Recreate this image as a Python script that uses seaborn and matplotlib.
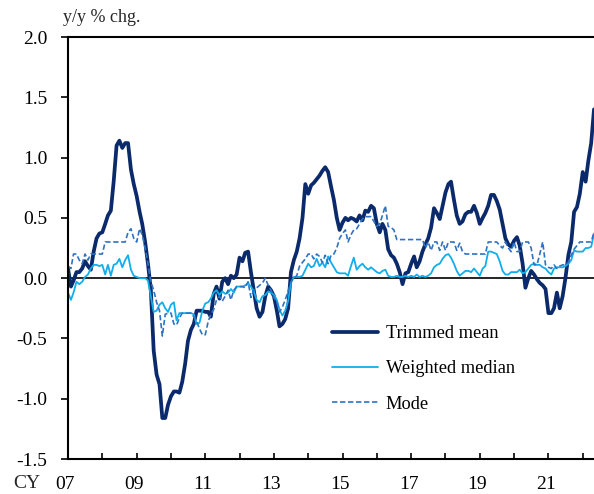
import numpy as np
import pandas as pd
import matplotlib
matplotlib.use("Agg")
import matplotlib.pyplot as plt
import matplotlib.transforms as mtransforms
import seaborn as sns

# Monthly data, Jan 2007 onward (y/y % chg.)
trimmed_mean = [
    0.08, -0.07, -0.02, 0.05, 0.05, 0.08, 0.14, 0.10, 0.07, 0.22, 0.33, 0.37,   # 2007
    0.38, 0.45, 0.52, 0.56, 0.80, 1.10, 1.14, 1.08, 1.12, 1.12, 0.90, 0.78,     # 2008
    0.68, 0.55, 0.45, 0.30, 0.12, -0.10, -0.60, -0.80, -0.88, -1.16, -1.16, -1.05,  # 2009
    -0.98, -0.94, -0.94, -0.95, -0.86, -0.71, -0.52, -0.43, -0.38, -0.27, -0.27, -0.27,  # 2010
    -0.28, -0.28, -0.32, -0.13, -0.07, -0.17, -0.03, 0.00, -0.05, 0.02, 0.00, 0.03,  # 2011
    0.17, 0.14, 0.21, 0.22, 0.05, -0.10, -0.25, -0.32, -0.28, -0.15, -0.07, -0.10,  # 2012
    -0.15, -0.27, -0.40, -0.38, -0.34, -0.25, 0.05, 0.15, 0.22, 0.33, 0.50, 0.78,  # 2013
    0.70, 0.77, 0.79, 0.82, 0.85, 0.89, 0.92, 0.88, 0.76, 0.65, 0.50, 0.40,     # 2014
    0.46, 0.50, 0.48, 0.50, 0.49, 0.47, 0.52, 0.48, 0.56, 0.55, 0.60, 0.58,     # 2015
    0.45, 0.38, 0.45, 0.40, 0.24, 0.19, 0.17, 0.12, 0.05, -0.05, 0.04, 0.05,    # 2016
    0.12, 0.18, 0.09, 0.14, 0.22, 0.28, 0.33, 0.42, 0.58, 0.54, 0.49, 0.60,     # 2017
    0.71, 0.78, 0.80, 0.65, 0.52, 0.45, 0.47, 0.53, 0.55, 0.55, 0.60, 0.54,     # 2018
    0.45, 0.50, 0.54, 0.60, 0.69, 0.69, 0.64, 0.57, 0.45, 0.33, 0.28, 0.26,     # 2019
    0.31, 0.34, 0.27, 0.12, -0.08, 0.00, 0.06, 0.03, -0.01, -0.04, -0.06, -0.09,  # 2020
    -0.29, -0.29, -0.25, -0.12, -0.25, -0.15, 0.00, 0.19, 0.30, 0.55, 0.59, 0.70,  # 2021
    0.88, 0.80, 0.97, 1.12, 1.40,                                               # 2022
]

weighted_median = [
    -0.12, -0.18, -0.12, -0.03, -0.05, -0.03, 0.01, 0.03, 0.08, 0.11, 0.11, 0.10,
    0.11, 0.03, 0.11, 0.02, 0.11, 0.12, 0.16, 0.09, 0.15, 0.19, 0.07, 0.02,
    0.01, 0.00, 0.00, 0.00, -0.02, -0.15, -0.28, -0.27, -0.22, -0.20, -0.25, -0.28,
    -0.22, -0.20, -0.35, -0.29, -0.29, -0.29, -0.29, -0.29, -0.30, -0.38, -0.37, -0.27,
    -0.21, -0.20, -0.17, -0.12, -0.10, -0.14, -0.11, -0.13, -0.12, -0.09, -0.12, -0.07,
    -0.07, -0.07, -0.06, -0.04, -0.07, -0.11, -0.18, -0.20, -0.15, -0.14, -0.11, -0.12,
    -0.14, -0.18, -0.26, -0.31, -0.27, -0.19, -0.04, 0.01, 0.01, 0.01, 0.02, 0.07,
    0.12, 0.09, 0.10, 0.16, 0.10, 0.13, 0.09, 0.18, 0.13, 0.09, 0.05, 0.04,
    0.04, 0.04, 0.02, 0.10, 0.17, 0.07, 0.10, 0.12, 0.09, 0.07, 0.09, 0.07,
    0.05, 0.04, 0.06, 0.07, 0.02, 0.01, 0.01, 0.02, 0.01, 0.01, 0.02, 0.01,
    0.02, 0.01, 0.03, 0.01, 0.02, 0.01, 0.02, 0.04, 0.09, 0.11, 0.12, 0.16,
    0.19, 0.20, 0.17, 0.12, 0.06, 0.02, 0.04, 0.06, 0.06, 0.05, 0.08, 0.05,
    0.02, 0.08, 0.10, 0.22, 0.22, 0.21, 0.20, 0.14, 0.06, 0.03, 0.03, 0.05,
    0.05, 0.05, 0.07, 0.04, 0.05, 0.08, 0.11, 0.12, 0.11, 0.11, 0.09, 0.08,
    0.05, 0.03, 0.08, 0.09, 0.09, 0.09, 0.10, 0.12, 0.15, 0.23, 0.22, 0.22,
    0.22, 0.25, 0.25, 0.26, 0.37,
]

mode = [
    0.10, 0.08, 0.20, 0.20, 0.15, 0.12, 0.20, 0.15, 0.20, 0.20, 0.20, 0.20,
    0.20, 0.30, 0.30, 0.30, 0.30, 0.30, 0.30, 0.30, 0.30, 0.38, 0.41, 0.33,
    0.30, 0.41, 0.36, 0.25, 0.12, -0.03, -0.10, -0.20, -0.27, -0.48, -0.30, -0.29,
    -0.29, -0.38, -0.39, -0.33, -0.29, -0.29, -0.29, -0.29, -0.32, -0.36, -0.42, -0.47,
    -0.47, -0.36, -0.30, -0.26, -0.18, -0.15, -0.19, -0.15, -0.10, -0.18, -0.10, -0.07,
    -0.07, -0.07, -0.08, -0.03, -0.16, -0.10, -0.08, -0.06, -0.04, 0.00, -0.06, -0.10,
    -0.16, -0.20, -0.28, -0.24, -0.18, -0.11, -0.03, 0.00, 0.02, 0.10, 0.13, 0.16,
    0.20, 0.20, 0.16, 0.20, 0.18, 0.13, 0.19, 0.12, 0.19, 0.20, 0.25, 0.33,
    0.37, 0.40, 0.30, 0.36, 0.40, 0.41, 0.45, 0.49, 0.51, 0.51, 0.51, 0.47,
    0.43, 0.45, 0.52, 0.60, 0.43, 0.42, 0.40, 0.32, 0.32, 0.32, 0.32, 0.32,
    0.32, 0.32, 0.32, 0.32, 0.32, 0.25, 0.30, 0.23, 0.30, 0.30, 0.23, 0.30,
    0.23, 0.30, 0.30, 0.30, 0.23, 0.29, 0.22, 0.20, 0.20, 0.20, 0.20, 0.20,
    0.20, 0.20, 0.20, 0.30, 0.30, 0.30, 0.30, 0.27, 0.25, 0.30, 0.25, 0.22,
    0.30, 0.22, 0.22, 0.30, 0.30, 0.30, 0.25, 0.11, 0.11, 0.20, 0.30, 0.11,
    0.09, 0.08, 0.11, 0.08, 0.10, 0.11, 0.11, 0.13, 0.19, 0.24, 0.27, 0.30,
    0.30, 0.30, 0.30, 0.30, 0.38,
]

years = list(range(2007, 2023))
year_labels = ["07", "", "09", "", "11", "", "13", "", "15", "", "17", "", "19", "", "21", ""]
y_ticks = [-1.5, -1.0, -0.5, 0.0, 0.5, 1.0, 1.5, 2.0]

dates = pd.date_range("2007-01-01", periods=len(trimmed_mean), freq="MS")
df = pd.DataFrame({"date": dates, "Trimmed mean": trimmed_mean,
                   "Weighted median": weighted_median, "Mode": mode})

sns.set_style("white")
plt.rcParams["font.family"] = ["Liberation Serif", "DejaVu Serif"]
plt.rcParams["axes.unicode_minus"] = False

fig = plt.figure(figsize=(5.94, 4.94), dpi=100)
ax = fig.add_axes([68 / 594, 1 - 459 / 494, 1 - 68 / 594, (459 - 37) / 494])

sns.lineplot(data=df, x="date", y="Trimmed mean", ax=ax, color="#0B2A6B",
             linewidth=2.7, label="Trimmed mean")
sns.lineplot(data=df, x="date", y="Weighted median", ax=ax, color="#10AEEB",
             linewidth=1.3, label="Weighted median")
sns.lineplot(data=df, x="date", y="Mode", ax=ax, color="#2F72C4",
             linewidth=1.2, linestyle=(0, (3.2, 1.6)), label="Mode")

ax.axhline(0, color="black", linewidth=1.2, zorder=1)

ax.set_xlim(dates[0], dates[-1])
ax.set_ylim(-1.5, 2.0)
ax.set_yticks(y_ticks)
ax.set_yticklabels([f"{v:.1f}" for v in y_ticks])
tick_dates = [pd.Timestamp(f"{y}-01-01") for y in years]
ax.set_xticks(tick_dates)
ax.set_xticklabels(year_labels)
ax.set_xlabel("")
ax.set_ylabel("")

for s in ["left", "bottom", "top"]:
    ax.spines[s].set_visible(True)
    ax.spines[s].set_color("black")
    ax.spines[s].set_linewidth(1.5)
ax.spines["right"].set_visible(False)

ax.tick_params(axis="y", direction="out", length=5, width=1.2, labelsize=14,
               colors="black", left=True, pad=10)
ax.tick_params(axis="x", direction="in", length=4, width=1.2, labelsize=14,
               colors="black", bottom=True, pad=12.5)

# slight leftward shift of year labels, as in the reference
offset = mtransforms.ScaledTranslation(-2.5 / 100, 0, fig.dpi_scale_trans)
for lbl in ax.get_xticklabels():
    lbl.set_transform(lbl.get_transform() + offset)

fig.text(13 / 594, 1 - 483 / 494, "CY", fontsize=14, ha="left", va="center")
fig.text(63 / 594, 1 - 18 / 494, "y/y % chg.", fontsize=13, ha="left", va="center")

leg = ax.legend(loc="upper left", bbox_to_anchor=((332 - 68) / 526, (459 - 325) / 422),
                frameon=False, fontsize=13.2, borderpad=0, borderaxespad=0,
                handlelength=2.5, handletextpad=0.42, labelspacing=1.0)
for t in leg.get_texts():
    t.set_color("black")

fig.savefig("out.png", dpi=100)
